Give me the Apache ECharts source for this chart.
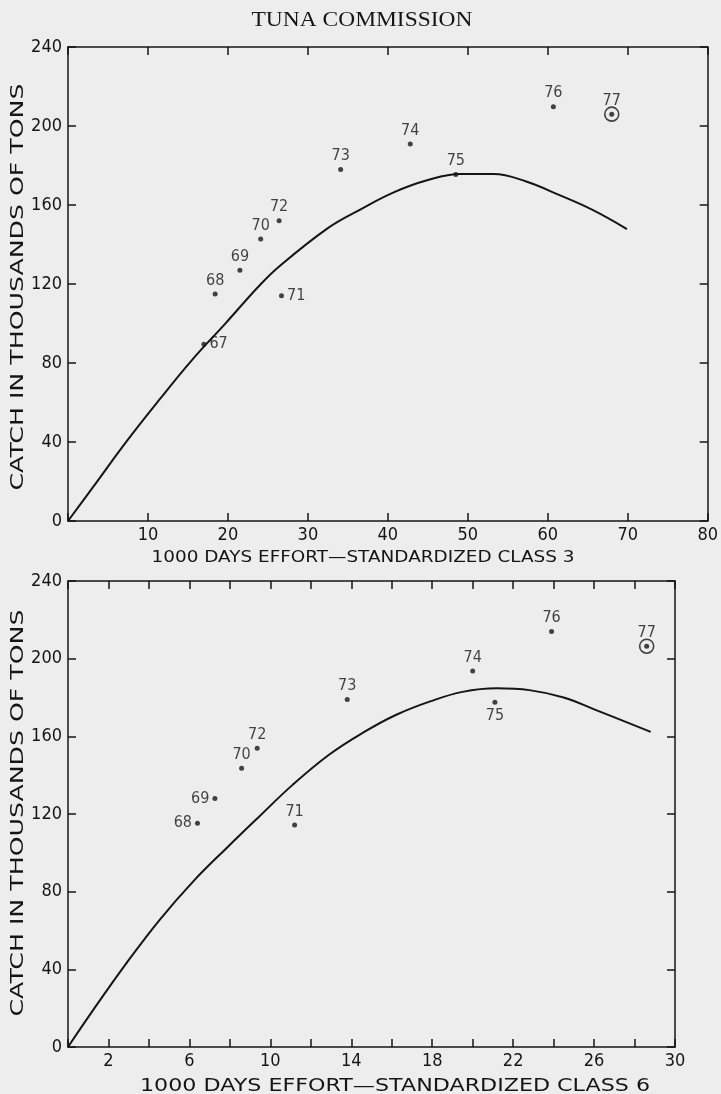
<!DOCTYPE html>
<html lang="en">
<head>
    <meta charset="UTF-8">
    <title>Tuna Commission</title>
    <script src="https://cdn.jsdelivr.net/npm/echarts@6/dist/echarts.min.js"></script>
    <style>
        html, body {
            margin: 0;
            padding: 0;
            background: #ededed;
        }
        #chart {
            width: 721px;
            height: 1094px;
        }
    </style>
</head>
<body>
<div id="chart"></div>
<script>
    // class 3 panel (top)
    var years3 = ['67', '68', '69', '70', '71', '72', '73', '74', '75', '76', '77'];
    var effort3 = [17.0, 18.4, 21.5, 24.1, 26.7, 26.4, 34.1, 42.8, 48.5, 60.7, 68.0];
    var catch3 = [89.5, 115, 127, 142.8, 114, 152, 178, 190.9, 175.5, 209.8, 206];
    var curveEffort3 = [0, 3.1, 7.3, 11.4, 15.5, 19.7, 23.8, 26.3, 32.5, 36.6, 40.8, 44.9, 49.0, 53.2, 57.3, 61.4, 65.6, 69.9];
    var curveCatch3 = [0, 17, 40.2, 61.3, 81.5, 100.1, 118.6, 128.5, 148.3, 157.8, 166.5, 172.5, 175.7, 175.7, 171.9, 165.1, 157.5, 147.8];

    // class 6 panel (bottom)
    var years6 = ['68', '69', '70', '71', '72', '73', '74', '75', '76', '77'];
    var effort6 = [6.4, 7.26, 8.58, 11.2, 9.35, 13.8, 20.0, 21.1, 23.9, 28.6];
    var catch6 = [115.2, 128, 143.5, 114.3, 153.8, 179, 193.6, 177.5, 214, 206.4];
    var curveEffort6 = [0, 1.24, 2.89, 4.53, 6.18, 7.83, 9.48, 11.1, 12.9, 14.6, 16.2, 17.9, 19.5, 21.2, 22.8, 24.5, 26.1, 28.8];
    var curveCatch6 = [0, 19, 43.2, 65.5, 85.2, 102.4, 119, 135, 150.5, 162, 171, 178, 182.9, 184.7, 183.8, 180, 173.5, 162.3];

    var yTicks = [0, 240, 40];   // min, max, step

    var ink = '#151515';
    var narrow = "'Liberation Sans Narrow', 'DejaVu Sans Condensed', 'Liberation Sans', sans-serif";

    // label side for each year, anything not listed goes on top
    var labelSide3 = {'67': 'right', '71': 'right'};
    var labelSide6 = {'68': 'left', '69': 'left', '75': 'bottom'};

    var measureCtx = document.createElement('canvas').getContext('2d');
    function fitScale(text, font, width) {
        measureCtx.font = font;
        return width / measureCtx.measureText(text).width;
    }

    function pairs(xs, ys) {
        return xs.map(function (x, i) { return [x, ys[i]]; });
    }

    function points(xs, ys, yrs, sides) {
        return xs.map(function (x, i) {
            var item = {value: [x, ys[i]], name: yrs[i]};
            if (sides[yrs[i]]) item.label = {position: sides[yrs[i]]};
            return item;
        });
    }

    function ringOf(xs, ys, yrs) {
        var i = yrs.indexOf('77');
        return [[xs[i], ys[i]]];
    }

    // onZero off, otherwise the top/right frame axes jump onto the zero lines
    var axisLine = {onZero: false, lineStyle: {color: ink, width: 1.5}};
    var axisTick = {inside: true, length: 8, lineStyle: {color: ink, width: 1.5}};
    var axisLabel = {color: ink, fontSize: 18, fontFamily: narrow, margin: 5};

    function xAxisPair(grid, max, step, fmt) {
        return [
            {
                gridIndex: grid, type: 'value', min: 0, max: max, interval: step, position: 'bottom',
                axisLine: axisLine, axisTick: axisTick, splitLine: {show: false},
                axisLabel: Object.assign({}, axisLabel, {formatter: fmt})
            },
            {
                gridIndex: grid, type: 'value', min: 0, max: max, interval: step, position: 'top',
                axisLine: axisLine, axisTick: axisTick, splitLine: {show: false},
                axisLabel: {show: false}
            }
        ];
    }

    function yAxisPair(grid) {
        return [
            {
                gridIndex: grid, type: 'value', min: yTicks[0], max: yTicks[1], interval: yTicks[2], position: 'left',
                axisLine: axisLine, axisTick: axisTick, splitLine: {show: false},
                axisLabel: Object.assign({}, axisLabel, {margin: 6})
            },
            {
                gridIndex: grid, type: 'value', min: yTicks[0], max: yTicks[1], interval: yTicks[2], position: 'right',
                axisLine: axisLine, axisTick: axisTick, splitLine: {show: false},
                axisLabel: {show: false}
            }
        ];
    }

    var pointLabel = {
        show: true, position: 'top', distance: 3, color: ink,
        fontSize: 16, fontFamily: narrow,
        formatter: function (p) { return p.name; }
    };

    function panelSeries(xi, yi, cx, cy, ex, ey, yrs, sides) {
        return [
            {
                type: 'line', xAxisIndex: xi, yAxisIndex: yi, data: pairs(cx, cy),
                smooth: 0.4, showSymbol: false, silent: true,
                lineStyle: {color: ink, width: 2}
            },
            {
                type: 'scatter', xAxisIndex: xi, yAxisIndex: yi, data: points(ex, ey, yrs, sides),
                symbolSize: 5, itemStyle: {color: ink}, label: pointLabel, z: 3
            },
            {
                type: 'scatter', xAxisIndex: xi, yAxisIndex: yi, data: ringOf(ex, ey, yrs),
                symbol: 'circle', symbolSize: 14, silent: true, z: 4,
                itemStyle: {color: 'rgba(0,0,0,0)', borderColor: ink, borderWidth: 1.6}
            }
        ];
    }

    function caption(text, x, y, font, width, rotated) {
        return {
            type: 'text', x: x, y: y, rotation: rotated ? Math.PI / 2 : 0,
            scaleX: fitScale(text, font, width),
            style: {text: text, font: font, fill: ink, textAlign: 'center', textVerticalAlign: 'middle'}
        };
    }

    var titleText = 'TUNA COMMISSION';
    var yName = 'CATCH IN THOUSANDS OF TONS';
    var xName3 = '1000 DAYS EFFORT\u2014STANDARDIZED CLASS 3';
    var xName6 = '1000 DAYS EFFORT\u2014STANDARDIZED CLASS 6';

    var option = {
        animation: false,
        backgroundColor: '#ededed',
        grid: [
            {left: 68, top: 47, width: 645, height: 474},
            {left: 68, top: 581, width: 607, height: 466}
        ],
        xAxis: xAxisPair(0, 80, 10, function (v) { return v === 0 ? '' : v; })
            .concat(xAxisPair(1, 30, 2, function (v) { return v % 4 === 2 ? v : ''; })),
        yAxis: yAxisPair(0).concat(yAxisPair(1)),
        series: panelSeries(0, 0, curveEffort3, curveCatch3, effort3, catch3, years3, labelSide3)
            .concat(panelSeries(2, 2, curveEffort6, curveCatch6, effort6, catch6, years6, labelSide6)),
        graphic: [
            caption(titleText, 362, 20, "21px 'Liberation Serif'", 221, false),
            caption(yName, 19, 287, "17px 'DejaVu Sans'", 407, true),
            caption(xName3, 363, 558, "15px 'DejaVu Sans'", 423, false),
            caption(yName, 19, 813, "17px 'DejaVu Sans'", 407, true),
            caption(xName6, 395, 1086, "18px 'DejaVu Sans'", 510, false)
        ]
    };

    var myChart = echarts.init(document.getElementById('chart'));
    myChart.setOption(option);
</script>
</body>
</html>
